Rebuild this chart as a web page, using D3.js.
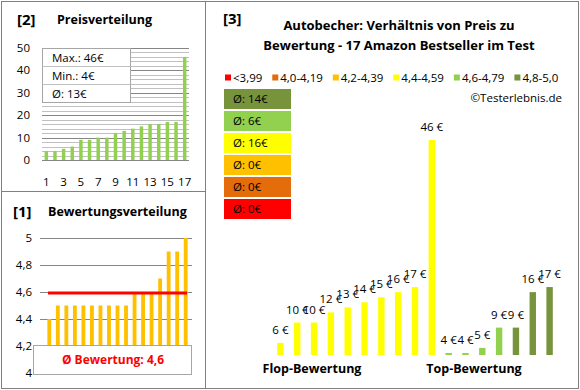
<!DOCTYPE html>
<html>
<head>
<meta charset="utf-8">
<script src="https://cdn.jsdelivr.net/npm/d3@7"></script>
<style>
  body { margin: 0; background: #fff; }
  svg { font-family: "Open Sans", Lato, sans-serif; display: block; }
</style>
</head>
<body>
<script>
// data
var priceSorted = [4, 4, 5, 6, 9, 9, 10, 10, 12, 13, 14, 15, 16, 16, 17, 17, 46];
var priceTicks = [0, 10, 20, 30, 40, 50];
var priceXLabels = [1, 3, 5, 7, 9, 11, 13, 15, 17];
var priceStats = ["Max.: 46€", "Min.: 4€", "Ø: 13€"];

var ratingSorted = [4.4, 4.5, 4.5, 4.5, 4.5, 4.5, 4.5, 4.5, 4.5, 4.5, 4.6, 4.6, 4.6, 4.7, 4.9, 4.9, 5.0];
var ratingTicks = [4, 4.2, 4.4, 4.6, 4.8, 5];
var ratingAvg = 4.6;

var groupLabels = ["<3,99", "4,0-4,19", "4,2-4,39", "4,4-4,59", "4,6-4,79", "4,8-5,0"];
var groupColors = ["#ff0000", "#e46c0a", "#ffc000", "#ffff00", "#92d050", "#77933c"];
var groupAvgs = [0, 0, 0, 16, 6, 14];

var barPrices = [6, 10, 10, 12, 13, 14, 15, 16, 17, 46, 4, 4, 5, 9, 9, 16, 17];
var barGroups = [3, 3, 3, 3, 3, 3, 3, 3, 3, 3, 4, 4, 4, 4, 5, 5, 5];

var svg = d3.select("body").append("svg")
    .attr("width", 580)
    .attr("height", 390);

var fmt = function (v) { return String(v).replace(".", ","); };

// frames
svg.append("rect").attr("x", 1.5).attr("y", 1.5).attr("width", 577).attr("height", 387)
    .attr("fill", "none").attr("stroke", "#808080");
svg.append("line").attr("x1", 205.5).attr("x2", 205.5).attr("y1", 1).attr("y2", 389).attr("stroke", "#808080");
svg.append("line").attr("x1", 1).attr("x2", 205).attr("y1", 191.5).attr("y2", 191.5).attr("stroke", "#808080");

// ---------- [2] Preisverteilung ----------
var p2 = svg.append("g");
p2.append("text").attr("x", 17).attr("y", 25).style("font-weight", "bold").style("font-size", "15px").text("[2]");
p2.append("text").attr("x", 57).attr("y", 24).style("font-weight", "bold").style("font-size", "12.5px").text("Preisverteilung");

var x2 = d3.scaleBand().domain(d3.range(1, 18)).range([42, 189]).paddingInner(0.6).paddingOuter(0.3);
var y2 = d3.scaleLinear().domain([0, 50]).range([160, 48]);

p2.selectAll(".grid").data(d3.range(0, 51, 2)).enter().append("line")
    .attr("x1", 42).attr("x2", 189)
    .attr("y1", function (d) { return Math.round(y2(d)) + 0.5; })
    .attr("y2", function (d) { return Math.round(y2(d)) + 0.5; })
    .attr("stroke", function (d) { return d % 10 === 0 ? "#868686" : "#c0c0c0"; });

p2.selectAll(".bar").data(priceSorted).enter().append("rect")
    .attr("x", function (d, i) { return x2(i + 1); })
    .attr("width", x2.bandwidth())
    .attr("y", function (d) { return y2(d); })
    .attr("height", function (d) { return y2(0) - y2(d); })
    .attr("fill", "#92d050");

p2.selectAll(".yl").data(priceTicks).enter().append("text")
    .attr("x", 30).attr("y", function (d) { return y2(d) + 4; })
    .attr("text-anchor", "end").style("font-size", "11.5px").text(function (d) { return d; });

p2.selectAll(".xl").data(priceXLabels).enter().append("text")
    .attr("x", function (d) { return x2(d) + x2.bandwidth() / 2; }).attr("y", 186)
    .attr("text-anchor", "middle").style("font-size", "11.5px").text(function (d) { return d; });

var stat = p2.append("g");
stat.append("rect").attr("x", 42.5).attr("y", 48.5).attr("width", 88).attr("height", 54)
    .attr("fill", "#fff").attr("stroke", "#a6a6a6");
stat.selectAll(".sep").data([1, 2]).enter().append("line")
    .attr("x1", 42.5).attr("x2", 130.5)
    .attr("y1", function (d) { return 48.5 + d * 18; }).attr("y2", function (d) { return 48.5 + d * 18; })
    .attr("stroke", "#c0c0c0");
stat.selectAll(".st").data(priceStats).enter().append("text")
    .attr("x", 52).attr("y", function (d, i) { return 62 + i * 18; })
    .style("font-size", "11.5px").text(function (d) { return d; });

// ---------- [1] Bewertungsverteilung ----------
var p1 = svg.append("g");
p1.append("text").attr("x", 13).attr("y", 217).style("font-weight", "bold").style("font-size", "15px").text("[1]");
p1.append("text").attr("x", 48).attr("y", 216).style("font-weight", "bold").style("font-size", "12.5px").text("Bewertungsverteilung");

var x1 = d3.scaleBand().domain(d3.range(17)).range([45, 190]).paddingInner(0.55).paddingOuter(0.28);
var y1 = d3.scaleLinear().domain([4, 5]).range([373, 238]);

p1.selectAll(".grid").data(ratingTicks.slice(1)).enter().append("line")
    .attr("x1", 40).attr("x2", 192)
    .attr("y1", function (d) { return Math.round(y1(d)) + 0.5; })
    .attr("y2", function (d) { return Math.round(y1(d)) + 0.5; })
    .attr("stroke", "#868686");

p1.selectAll(".bar").data(ratingSorted).enter().append("rect")
    .attr("x", function (d, i) { return x1(i); })
    .attr("width", x1.bandwidth())
    .attr("y", function (d) { return y1(d); })
    .attr("height", function (d) { return y1(4) - y1(d); })
    .attr("fill", "#ffc000");

p1.append("line")
    .attr("x1", 48).attr("x2", 187)
    .attr("y1", y1(ratingAvg) + 1).attr("y2", y1(ratingAvg) + 1)
    .attr("stroke", "#ff0000").attr("stroke-width", 3);

p1.selectAll(".yl").data(ratingTicks).enter().append("text")
    .attr("x", 32).attr("y", function (d) { return y1(d) + 4; })
    .attr("text-anchor", "end").style("font-size", "11.5px").text(fmt);

p1.append("rect").attr("x", 33.5).attr("y", 345.5).attr("width", 158).attr("height", 29)
    .attr("fill", "#fff").attr("stroke", "#a6a6a6");
p1.append("text").attr("x", 113).attr("y", 364).attr("text-anchor", "middle")
    .style("font-weight", "bold").style("font-size", "12px").attr("fill", "#ff0000")
    .text("Ø Bewertung: " + fmt(ratingAvg));

// ---------- [3] Preis zu Bewertung ----------
var p3 = svg.append("g");
p3.append("text").attr("x", 223).attr("y", 24).style("font-weight", "bold").style("font-size", "15px").text("[3]");
p3.append("text").attr("x", 399).attr("y", 30).attr("text-anchor", "middle")
    .style("font-weight", "bold").style("font-size", "13px").text("Autobecher: Verhältnis von Preis zu");
p3.append("text").attr("x", 399).attr("y", 50).attr("text-anchor", "middle")
    .style("font-weight", "bold").style("font-size", "13px").text("Bewertung - 17 Amazon Bestseller im Test");

// legend laid out one after another
var legX = 225;
groupLabels.forEach(function (lab, i) {
    var g = p3.append("g").attr("transform", "translate(" + legX + ",74)");
    g.append("rect").attr("width", 6).attr("height", 6).attr("y", 0.5).attr("fill", groupColors[i]);
    var t = g.append("text").attr("x", 8).attr("y", 7.5).style("font-size", "11.5px").text(lab);
    legX += 8 + t.node().getComputedTextLength() + 10;
});

p3.append("text").attr("x", 562).attr("y", 102).attr("text-anchor", "end")
    .style("font-size", "11.5px").text("©Testerlebnis.de");

var avgOrder = d3.range(groupAvgs.length).reverse();
var avgBox = p3.selectAll(".avg").data(avgOrder).enter().append("g")
    .attr("transform", function (d, i) { return "translate(224," + (89 + i * 22) + ")"; });
avgBox.append("rect").attr("width", 67).attr("height", 20)
    .attr("fill", function (d) { return groupColors[d]; });
avgBox.append("text").attr("x", 9).attr("y", 14).style("font-size", "11.5px")
    .text(function (d) { return "Ø: " + groupAvgs[d] + "€"; });

var x3 = d3.scaleBand().domain(d3.range(17)).range([272, 558]).paddingInner(0.62).paddingOuter(0.31);
var y3 = d3.scaleLinear().domain([3.6, 46]).range([355, 140]);

p3.selectAll(".bar").data(barPrices).enter().append("rect")
    .attr("x", function (d, i) { return x3(i); })
    .attr("width", x3.bandwidth())
    .attr("y", function (d) { return y3(d); })
    .attr("height", function (d) { return y3(3.6) - y3(d); })
    .attr("fill", function (d, i) { return groupColors[barGroups[i]]; });

p3.selectAll(".lbl").data(barPrices).enter().append("text")
    .attr("x", function (d, i) { return x3(i) + x3.bandwidth() / 2; })
    .attr("y", function (d) { return y3(d) - 9; })
    .attr("text-anchor", "middle").style("font-size", "11.5px")
    .text(function (d) { return d + "\u00a0€"; });

p3.append("text").attr("x", 312).attr("y", 373).attr("text-anchor", "middle")
    .style("font-weight", "bold").style("font-size", "12.5px").text("Flop-Bewertung");
p3.append("text").attr("x", 474).attr("y", 373).attr("text-anchor", "middle")
    .style("font-weight", "bold").style("font-size", "12.5px").text("Top-Bewertung");
</script>
</body>
</html>
